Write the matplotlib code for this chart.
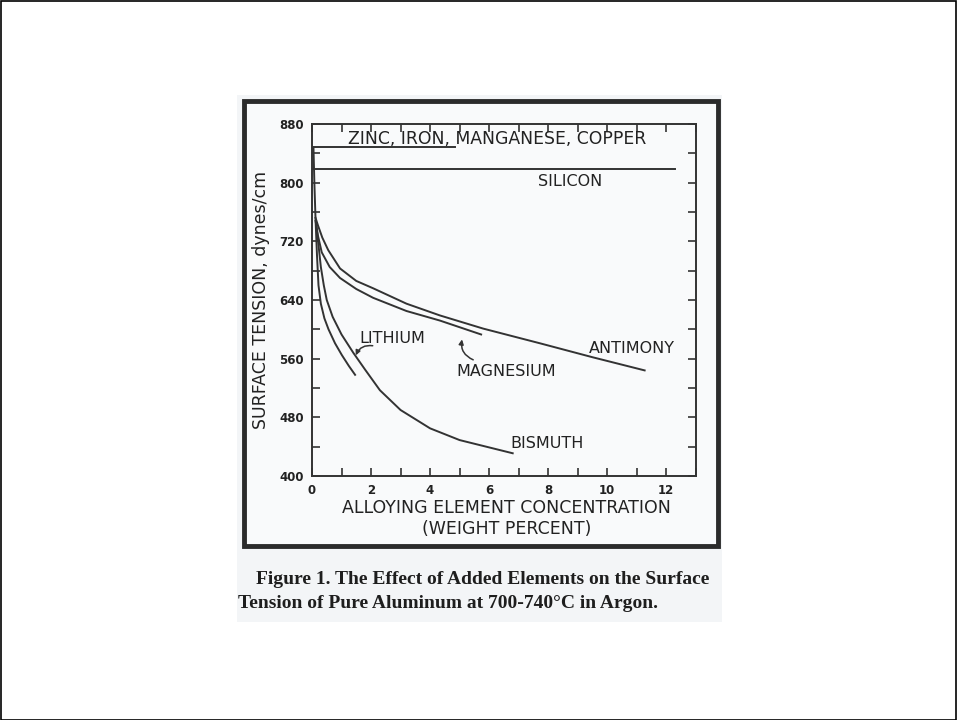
import matplotlib.pyplot as plt
import matplotlib.patches as patches

# data (weight percent, dynes/cm)
zinc_x = [0.0, 4.85]
zinc_y = [848, 848]
silicon_x = [0.05, 12.3]
silicon_y = [818, 818]

antimony_x = [0.12, 0.2, 0.35, 0.55, 0.95, 1.5, 2.07, 3.2, 4.33, 5.8, 7.72, 9.5, 11.27]
antimony_y = [752, 742, 725, 708, 683, 666, 656, 635, 619, 601, 581, 562, 544]

magnesium_x = [0.12, 0.2, 0.33, 0.6, 0.95, 1.5, 2.07, 3.2, 4.33, 5.73]
magnesium_y = [748, 728, 705, 685, 670, 655, 643, 625, 612, 593]

lithium_x = [0.05, 0.08, 0.12, 0.17, 0.22, 0.3, 0.42, 0.56, 0.78, 1.01, 1.25, 1.46]
lithium_y = [848, 800, 750, 700, 660, 635, 615, 600, 581, 565, 550, 538]

bismuth_x = [0.14, 0.22, 0.3, 0.4, 0.5, 0.7, 1.0, 1.4, 1.8, 2.3, 3.0, 4.0, 5.0, 6.0, 6.8]
bismuth_y = [745, 715, 685, 660, 640, 617, 593, 568, 545, 517, 490, 465, 449, 439, 431]

x_ticks = [0, 2, 4, 6, 8, 10, 12]
y_ticks = [400, 480, 560, 640, 720, 800, 880]

W, H = 957, 720
line_col = '#333333'
plt.rcParams['font.family'] = ['DejaVu Sans']

fig = plt.figure(figsize=(W / 100, H / 100), dpi=100)
fig.patch.set_facecolor('white')

# scanned page area + thick frame round the chart
fig.patches.append(patches.Rectangle((237 / W, 1 - 622 / H), 485 / W, 527 / H,
                                     transform=fig.transFigure, facecolor='#f3f5f7',
                                     edgecolor='none', zorder=-2))
fig.patches.append(patches.Rectangle((244 / W, 1 - 546 / H), 474 / W, 445 / H,
                                     transform=fig.transFigure, facecolor='#f9fafb',
                                     edgecolor='#2b2b2b', linewidth=3.5, zorder=-1))
# outer black border of the picture
fig.patches.append(patches.Rectangle((0.5 / W, 0.5 / H), (W - 1.5) / W, (H - 1.5) / H,
                                     transform=fig.transFigure, facecolor='none',
                                     edgecolor='black', linewidth=1.2, zorder=5))

ax = fig.add_axes([312 / W, 1 - 476 / H, 383.7 / W, 352 / H])
ax.set_zorder(3)
ax.set_facecolor('none')
ax.set_xlim(0, 13)
ax.set_ylim(400, 880)

lw = 1.4
ax.plot(zinc_x, zinc_y, color=line_col, lw=lw)
ax.plot(silicon_x, silicon_y, color=line_col, lw=lw)
ax.plot(antimony_x, antimony_y, color=line_col, lw=lw)
ax.plot(magnesium_x, magnesium_y, color=line_col, lw=lw)
ax.plot(lithium_x, lithium_y, color=line_col, lw=lw)
ax.plot(bismuth_x, bismuth_y, color=line_col, lw=lw)

# ticks
ax.set_xticks(x_ticks)
ax.set_xticks(range(0, 14), minor=True)
ax.set_yticks(y_ticks)
ax.set_yticks(range(400, 881, 40), minor=True)
ax.tick_params(which='both', direction='in', top=True, right=True,
               length=6, width=1.2, color=line_col)
ax.tick_params(axis='both', labelsize=8.5, pad=6, labelcolor='#222222')
for lab in ax.get_xticklabels() + ax.get_yticklabels():
    lab.set_fontweight('bold')
for sp in ax.spines.values():
    sp.set_linewidth(1.4)
    sp.set_color(line_col)

ax.set_xlabel('ALLOYING ELEMENT CONCENTRATION\n(WEIGHT PERCENT)', fontsize=12.5,
              color='#222222', linespacing=1.2)
ax.xaxis.set_label_coords(0.507, -0.066, transform=ax.transAxes)
ax.xaxis.label.set_va('top')
ax.set_ylabel('SURFACE TENSION, dynes/cm', fontsize=12.5, color='#222222')
ax.yaxis.set_label_coords(-0.110, 0.5)

# curve labels
txt = dict(fontsize=11.5, color='#222222', ha='center', va='center')
ax.text(6.26, 859, 'ZINC, IRON, MANGANESE, COPPER', **dict(txt, fontsize=12.4))
ax.text(8.76, 802, 'SILICON', **txt)
ax.text(2.71, 587, 'LITHIUM', **txt)
ax.text(6.57, 542, 'MAGNESIUM', **txt)
ax.text(10.83, 574, 'ANTIMONY', **txt)
ax.text(7.95, 445, 'BISMUTH', **txt)

ax.annotate('', xy=(1.45, 561), xytext=(2.15, 577),
            arrowprops=dict(arrowstyle='-|>', color=line_col, lw=1.1,
                            mutation_scale=7, connectionstyle='arc3,rad=0.45'))
ax.annotate('', xy=(5.1, 590), xytext=(5.55, 557),
            arrowprops=dict(arrowstyle='-|>', color=line_col, lw=1.1,
                            mutation_scale=7, connectionstyle='arc3,rad=-0.45'))

# caption
cap = dict(family=['Liberation Serif', 'DejaVu Serif'], fontweight='bold',
           fontsize=14.0, color='#1e1e1e', va='center', ha='left')
fig.text(256 / W, 1 - 580 / H, 'Figure 1. The Effect of Added Elements on the Surface', **cap)
fig.text(238 / W, 1 - 604 / H, 'Tension of Pure Aluminum at 700-740\u00b0C in Argon.', **cap)

fig.savefig('out.png', dpi=100, facecolor='white')
